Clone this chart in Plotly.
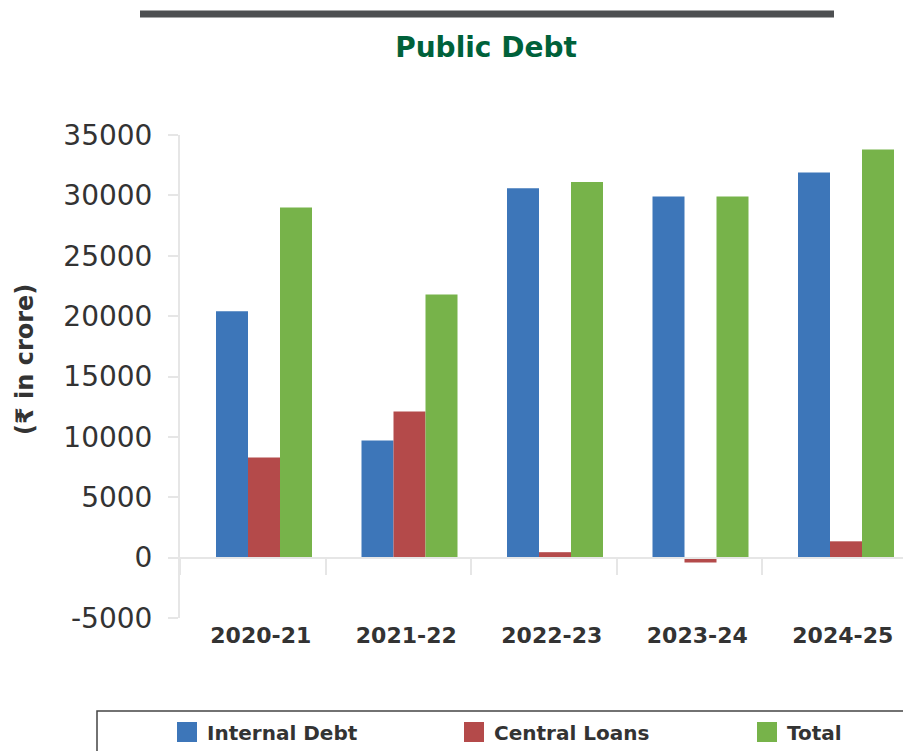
import plotly.graph_objects as go

years = ["2020-21", "2021-22", "2022-23", "2023-24", "2024-25"]
internal_debt = [20400, 9700, 30600, 29900, 31900]
central_loans = [8300, 12100, 450, -400, 1350]
total = [29000, 21800, 31100, 29900, 33800]
series_names = ["Internal Debt", "Central Loans", "Total"]
colors = ["#3d76b9", "#b44a4a", "#77b34a"]
y_ticks = [-5000, 0, 5000, 10000, 15000, 20000, 25000, 30000, 35000]
y_tick_text = ["-5000", "0", "5000", "10000", "15000", "20000", "25000", "30000", "35000"]

W, H = 903, 751
L, R, T, B = 180, 0, 135, 133
pw, ph = W - L - R, H - T - B
CAT_PX = 145.5          # pixel width of one category
BAR_W = 32 / CAT_PX     # bar width in category units
GROUP_START = -0.2526   # left edge of a group relative to category centre

def px(x):
    return (x - L) / pw

def py(y):
    return (H - B - y) / ph

legend_ids = ["legend", "legend2", "legend3"]
legend_x = [167, 454, 747]

fig = go.Figure()
for i, (name, vals, col) in enumerate(zip(series_names, [internal_debt, central_loans, total], colors)):
    fig.add_trace(go.Bar(x=years, y=vals, name=name, marker=dict(color=col, line=dict(width=0)),
                         width=BAR_W, offset=GROUP_START + i * BAR_W, showlegend=False))
# legend entries with larger square symbols
for name, col, lid in zip(series_names, colors, legend_ids):
    fig.add_trace(go.Scatter(x=[None], y=[None], mode="markers", name=name, legend=lid,
                             marker=dict(symbol="square", size=24, color=col,
                                         line=dict(color=col, width=4))))

legend_font = dict(family="DejaVu Sans", size=20, color="#333333", weight="bold")
legend_layout = {}
for lid, lx in zip(legend_ids, legend_x):
    legend_layout[lid] = dict(orientation="h", x=px(lx), y=py(732), xanchor="left", yanchor="middle",
                              itemsizing="trace", font=legend_font, bgcolor="rgba(0,0,0,0)")

fig.update_layout(
    width=W, height=H,
    margin=dict(l=L, r=R, t=T, b=B, autoexpand=False),
    paper_bgcolor="white", plot_bgcolor="white",
    barmode="overlay",
    title=dict(text="Public Debt", x=486 / W, y=1 - 47 / H, xanchor="center", yanchor="middle",
               font=dict(family="DejaVu Sans", size=28, color="#00613a", weight="bold")),
    xaxis=dict(type="category", anchor="free", position=0.125, range=[-0.5, -0.5 + pw / CAT_PX],
               showline=True, linecolor="#e6e6e6", linewidth=2,
               ticks="outside", tickson="boundaries", ticklen=16, tickwidth=2, tickcolor="#e6e6e6",
               tickfont=dict(family="DejaVu Sans", size=22, color="#333333", weight="bold"),
               ticklabelstandoff=58, ticklabelshift=8, showgrid=False, zeroline=False),
    yaxis=dict(range=[-5000, 35000], tickvals=y_ticks, ticktext=y_tick_text,
               showline=True, linecolor="#e6e6e6", linewidth=2,
               ticks="outside", ticklen=10, tickwidth=2, tickcolor="#e6e6e6",
               tickfont=dict(family="DejaVu Sans", size=28, color="#333333"),
               ticklabelstandoff=10, showgrid=False, zeroline=False),
    showlegend=True,
    **legend_layout,
)

fig.add_annotation(text="(₹ in crore)", x=px(25), y=py(360), xref="paper", yref="paper",
                   textangle=-90, showarrow=False, xanchor="center", yanchor="middle",
                   font=dict(family="DejaVu Sans", size=24, color="#333333", weight="bold"))

fig.add_shape(type="line", xref="paper", yref="paper", x0=px(140), x1=px(834), y0=py(14), y1=py(14),
              line=dict(color="#4d4f51", width=7))
fig.add_shape(type="rect", xref="paper", yref="paper", x0=px(97), x1=px(960), y0=py(711), y1=py(800),
              line=dict(color="#444444", width=1.5))

fig.write_html("out.html")
